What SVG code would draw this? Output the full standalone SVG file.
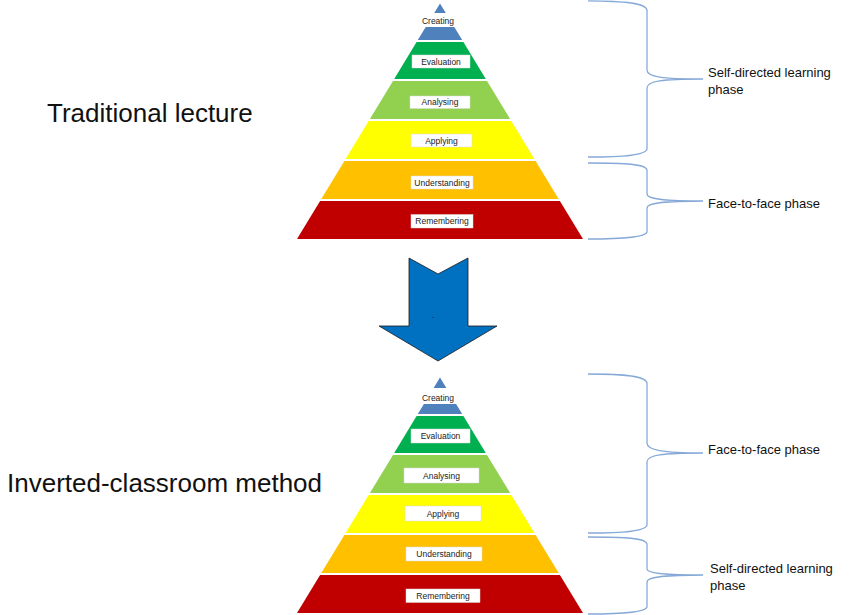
<svg xmlns="http://www.w3.org/2000/svg" width="850" height="615" viewBox="0 0 850 615">
<style>
.lbl{font-family:"Liberation Sans",Arial,sans-serif;font-size:8.5px;fill:#222;text-anchor:middle}
.box{fill:#fff;stroke:#d8d8d8;stroke-width:0.5}
.title{font-family:"Liberation Sans",Arial,sans-serif;font-size:26px;fill:#111}
.side{font-family:"Liberation Sans",Arial,sans-serif;font-size:13px;fill:#111}
.brace{fill:none;stroke:#86A9D8;stroke-width:1.3}
.c1{fill:#4F81BD}.c2{fill:#00B050}.c3{fill:#92D050}.c4{fill:#FFFF00}.c5{fill:#FFC000}.c6{fill:#C00000}
</style>
<rect width="850" height="615" fill="#fff"/>

<text id="title-top" class="title" x="47" y="122">Traditional lecture</text>
<text id="title-bottom" class="title" x="7" y="492">Inverted-classroom method</text>

<!-- Top pyramid -->
<g id="top-creating">
<polygon class="c1" points="440,3.5 417.8,40 462.2,40"/>
<rect x="412" y="13" width="56" height="14" fill="#fff"/>
<text class="lbl" x="438" y="23.5">Creating</text>
</g>
<g id="top-evaluation">
<polygon class="c2" points="416.6,42 463.4,42 485.8,79 394.2,79"/>
<rect class="box" x="412" y="55" width="58" height="13"/>
<text class="lbl" x="441" y="64.5">Evaluation</text>
</g>
<g id="top-analysing">
<polygon class="c3" points="393,81 487,81 510.1,119 369.9,119"/>
<rect class="box" x="410" y="96" width="60" height="12.5"/>
<text class="lbl" x="440" y="105.3">Analysing</text>
</g>
<g id="top-applying">
<polygon class="c4" points="368.7,121 511.3,121 534.4,159 345.6,159"/>
<rect class="box" x="411" y="134" width="61" height="13"/>
<text class="lbl" x="441.5" y="143.8">Applying</text>
</g>
<g id="top-understanding">
<polygon class="c5" points="344.4,161 535.6,161 558.7,199 321.3,199"/>
<rect class="box" x="411" y="176" width="62" height="13"/>
<text class="lbl" x="442" y="185.8">Understanding</text>
</g>
<g id="top-remembering">
<polygon class="c6" points="320.1,201 559.9,201 583,239 297,239"/>
<rect class="box" x="411" y="214.5" width="62" height="13.5"/>
<text class="lbl" x="442" y="224.3">Remembering</text>
</g>

<!-- Arrow -->
<g id="arrow">
<polygon points="409,258 438,274 468,258 468,326 497,326 438,361 379,326 409,326" fill="#0070C0" stroke="#1a1a1a" stroke-width="0.8" stroke-linejoin="miter"/>
<circle cx="433" cy="317.5" r="0.6" fill="#1a1a1a"/>
</g>

<!-- Bottom pyramid -->
<g id="bottom-creating">
<polygon class="c1" points="440,377.5 417.8,414 462.2,414"/>
<rect x="412" y="388" width="56" height="16" fill="#fff"/>
<text class="lbl" x="438" y="400.5">Creating</text>
</g>
<g id="bottom-evaluation">
<polygon class="c2" points="416.6,416 463.4,416 485.8,453 394.2,453"/>
<rect class="box" x="411" y="429" width="59" height="14"/>
<text class="lbl" x="440.5" y="439.3">Evaluation</text>
</g>
<g id="bottom-analysing">
<polygon class="c3" points="393,455 487,455 510.1,493 369.9,493"/>
<rect class="box" x="404" y="468" width="75" height="15"/>
<text class="lbl" x="441.5" y="478.8">Analysing</text>
</g>
<g id="bottom-applying">
<polygon class="c4" points="368.7,495 511.3,495 534.4,533 345.6,533"/>
<rect class="box" x="405" y="506" width="76" height="15"/>
<text class="lbl" x="443" y="516.8">Applying</text>
</g>
<g id="bottom-understanding">
<polygon class="c5" points="344.4,535 535.6,535 558.7,573 321.3,573"/>
<rect class="box" x="406" y="547" width="76" height="14"/>
<text class="lbl" x="444" y="557.3">Understanding</text>
</g>
<g id="bottom-remembering">
<polygon class="c6" points="320.1,575 559.9,575 583,613 297,613"/>
<rect class="box" x="406" y="589" width="74" height="13.5"/>
<text class="lbl" x="443" y="598.8">Remembering</text>
</g>

<!-- Braces -->
<g id="connectors">
<path class="brace" d="M588,0.8 C625,1 646,3 647,10 L647,70 C647,77 662,79 703,79 C662,79 647,81 647,88 L647,149 C646,155 625,157 588,157"/>
<path class="brace" d="M588,163 C625,163 646,164 647,170 L647,194 C647,199 662,201 703,201 C662,201 647,203 647,208 L647,232 C646,237 625,239 588,239"/>
<path class="brace" d="M588,374 C625,374 646,376 647,383 L647,443 C647,450 662,453 703,453 C662,453 647,455 647,462 L647,525 C646,531 625,533 588,533"/>
<path class="brace" d="M588,537 C625,537 646,538 647,544 L647,569 C647,573 662,575 703,575 C662,575 647,577 647,582 L647,607 C646,612 625,614 588,614"/>
</g>

<g id="label-self-top">
<text class="side" x="708" y="77">Self-directed learning</text>
<text class="side" x="708" y="94">phase</text>
</g>
<g id="label-f2f-top">
<text class="side" x="708" y="208">Face-to-face phase</text>
</g>
<g id="label-f2f-bottom">
<text class="side" x="708" y="454">Face-to-face phase</text>
</g>
<g id="label-self-bottom">
<text class="side" x="710" y="573">Self-directed learning</text>
<text class="side" x="710" y="590">phase</text>
</g>
</svg>
